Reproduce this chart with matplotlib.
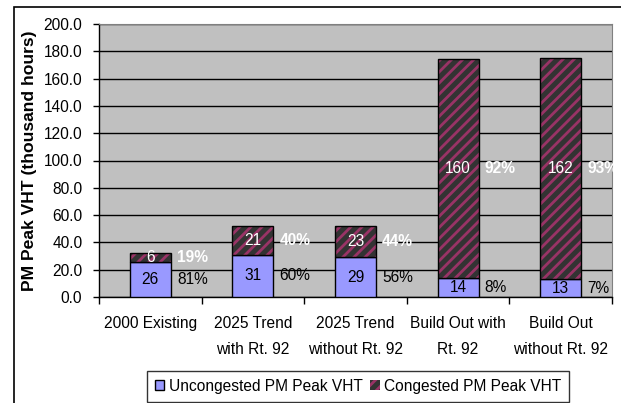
import matplotlib
matplotlib.use("Agg")
from matplotlib import pyplot as plt
from matplotlib.patches import Rectangle
from matplotlib.ticker import FixedLocator, FormatStrFormatter

plt.rcParams['font.family'] = ['Liberation Sans', 'DejaVu Sans']
plt.rcParams['hatch.linewidth'] = 2.0

# data
categories = ["2000 Existing", "2025 Trend\nwith Rt. 92", "2025 Trend\nwithout Rt. 92",
              "Build Out with\nRt. 92", "Build Out\nwithout Rt. 92"]
uncongested = [26, 31, 29, 14, 13]
congested = [6, 21, 23, 160, 162]
unc_pct = ["81%", "60%", "56%", "8%", "7%"]
con_pct = ["19%", "40%", "44%", "92%", "93%"]

blue = "#9999FF"
dark = "#333333"
magenta = "#993366"
fs = 11.2

fig = plt.figure(figsize=(6.21, 4.03), dpi=100)
ax = fig.add_axes([99/621, 1-297/403, 513/621, 273/403])
ax.set_facecolor("#C0C0C0")

x = list(range(len(categories)))
w = 0.4
ax.bar(x, uncongested, w, color=blue, edgecolor="black", linewidth=1, zorder=3)
# hatched congested part: fill + stripes, then outline on top
ax.bar(x, congested, w, bottom=uncongested, color=dark, edgecolor=magenta,
       hatch="///", linewidth=0, zorder=3)
ax.bar(x, congested, w, bottom=uncongested, fill=False, edgecolor="black",
       linewidth=1, zorder=4)

for i in x:
    u, c = uncongested[i], congested[i]
    ax.text(i, u/2, str(u), ha="center", va="center", fontsize=fs, color="black", zorder=5)
    ax.text(i, u + c/2, str(c), ha="center", va="center", fontsize=fs, color="white", zorder=5)
    ax.text(i + w/2 + 0.06, u/2, unc_pct[i], ha="left", va="center", fontsize=fs,
            color="black", zorder=5)
    ax.text(i + w/2 + 0.06, u + c/2, con_pct[i], ha="left", va="center", fontsize=fs,
            color="white", fontweight="bold", zorder=5)

ax.set_xlim(-0.5, len(categories) - 0.5)
ax.set_ylim(0, 200)
ax.set_yticks(range(0, 201, 20))
ax.yaxis.set_major_formatter(FormatStrFormatter("%.1f"))
ax.grid(axis="y", color="black", linewidth=1, zorder=1)
ax.set_axisbelow(True)

ax.set_xticks(x)
ax.set_xticklabels(categories, fontsize=fs, linespacing=1.85)
ax.xaxis.set_minor_locator(FixedLocator([i - 0.5 for i in range(len(categories) + 1)]))
ax.tick_params(axis="x", which="major", length=0, pad=14)
ax.tick_params(axis="x", which="minor", length=5, width=1, color="black")
ax.tick_params(axis="y", length=4, width=1, labelsize=fs, pad=8)

for s in ["top", "right"]:
    ax.spines[s].set_color("#808080")
for s in ["left", "bottom"]:
    ax.spines[s].set_color("black")
    ax.spines[s].set_linewidth(1)

fig.text(30/621, 1-161/403, "PM Peak VHT (thousand hours)", rotation=90, ha="center",
         va="center", fontsize=12.6, fontweight="bold")

leg = ax.legend(["Uncongested PM Peak VHT", "Congested PM Peak VHT"],
                loc="upper center", bbox_to_anchor=(358/621, 1-371/403),
                bbox_transform=fig.transFigure, borderaxespad=0, ncol=2, fontsize=fs,
                frameon=True, fancybox=False, edgecolor="black", handlelength=0.6,
                handleheight=0.6, handletextpad=0.3, columnspacing=0.5, borderpad=0.5)
leg.get_frame().set_linewidth(1)

# outer chart frame, running off the right and bottom edges
fig.add_artist(Rectangle((14/621, -0.1), 1.0, 1.1 - 7/403, transform=fig.transFigure,
                         fill=False, edgecolor="black", linewidth=1.2))

fig.savefig("out.png", dpi=100)
